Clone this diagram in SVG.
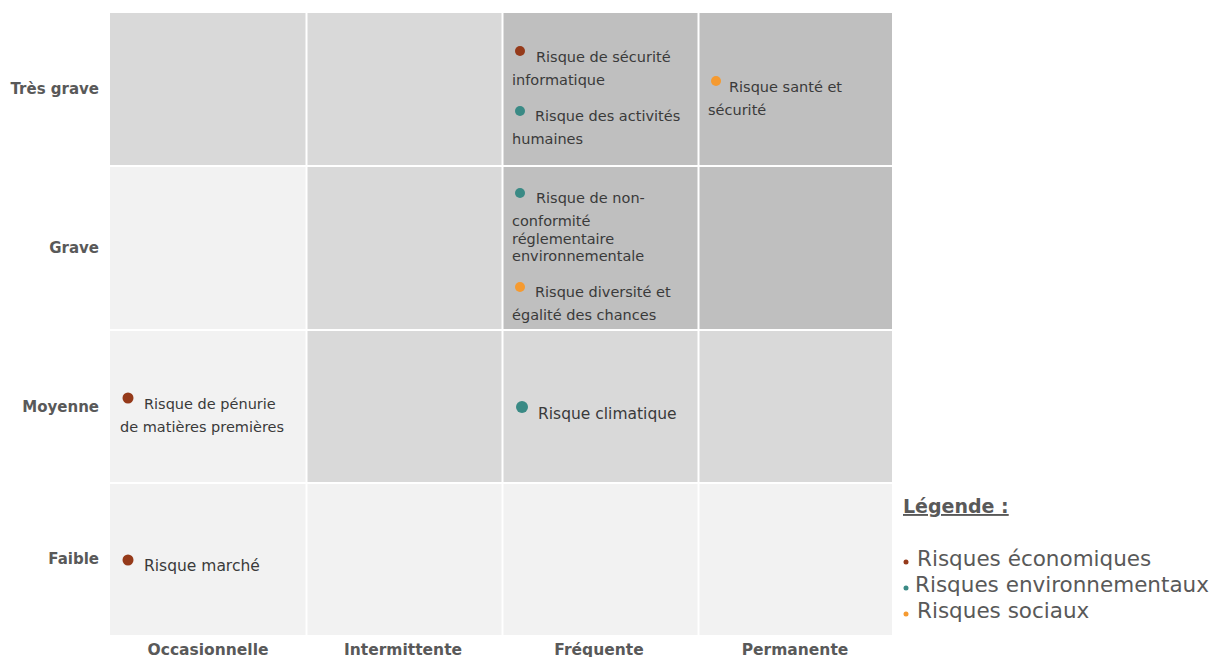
<svg xmlns="http://www.w3.org/2000/svg" width="1210" height="657" viewBox="0 0 1210 657">
<style>
.c1{fill:#f2f2f2}.c2{fill:#d9d9d9}.c3{fill:#bfbfbf}
.t{font-family:"DejaVu Sans","Liberation Sans",sans-serif;font-size:14.5px;fill:#3a3a3a}
.tl{font-family:"DejaVu Sans","Liberation Sans",sans-serif;font-size:15.5px;fill:#3a3a3a}
.ax{font-family:"DejaVu Sans","Liberation Sans",sans-serif;font-size:15px;font-weight:bold;fill:#595959}
.ax2{font-family:"DejaVu Sans","Liberation Sans",sans-serif;font-size:15.5px;font-weight:bold;fill:#595959}
.lg{font-family:"DejaVu Sans","Liberation Sans",sans-serif;font-size:21.5px;fill:#595959}
.lgt{font-family:"DejaVu Sans","Liberation Sans",sans-serif;font-size:19px;font-weight:bold;fill:#595959}
.eco{fill:#953a1a}.env{fill:#3a8a85}.soc{fill:#f59a30}
</style>
<rect width="1210" height="657" fill="#ffffff"/>
<g id="grid">
<rect class="c2" x="110" y="13" width="195.5" height="152"/>
<rect class="c2" x="307.5" y="13" width="194" height="152"/>
<rect class="c3" x="503.5" y="13" width="194" height="152"/>
<rect class="c3" x="699.5" y="13" width="192.5" height="152"/>
<rect class="c1" x="110" y="167" width="195.5" height="162"/>
<rect class="c2" x="307.5" y="167" width="194" height="162"/>
<rect class="c3" x="503.5" y="167" width="194" height="162"/>
<rect class="c3" x="699.5" y="167" width="192.5" height="162"/>
<rect class="c1" x="110" y="331" width="195.5" height="151"/>
<rect class="c2" x="307.5" y="331" width="194" height="151"/>
<rect class="c2" x="503.5" y="331" width="194" height="151"/>
<rect class="c2" x="699.5" y="331" width="192.5" height="151"/>
<rect class="c1" x="110" y="484" width="195.5" height="151"/>
<rect class="c1" x="307.5" y="484" width="194" height="151"/>
<rect class="c1" x="503.5" y="484" width="194" height="151"/>
<rect class="c1" x="699.5" y="484" width="192.5" height="151"/>
</g>
<g id="axis-y">
<text class="ax" x="99" y="94" text-anchor="end">Très grave</text>
<text class="ax" x="99" y="253" text-anchor="end">Grave</text>
<text class="ax" x="99" y="412" text-anchor="end">Moyenne</text>
<text class="ax" x="99" y="564" text-anchor="end">Faible</text>
</g>
<g id="axis-x">
<text class="ax2" x="208" y="655" text-anchor="middle">Occasionnelle</text>
<text class="ax2" x="403" y="655" text-anchor="middle">Intermittente</text>
<text class="ax2" x="599" y="655" text-anchor="middle">Fréquente</text>
<text class="ax2" x="795" y="655" text-anchor="middle">Permanente</text>
</g>
<g id="risk-securite-info">
<circle class="eco" cx="520" cy="51" r="5"/>
<text class="t" x="536" y="62">Risque de sécurité</text>
<text class="t" x="512" y="85">informatique</text>
</g>
<g id="risk-activites-humaines">
<circle class="env" cx="520" cy="111" r="5"/>
<text class="t" x="535" y="121">Risque des activités</text>
<text class="t" x="512" y="144">humaines</text>
</g>
<g id="risk-sante-securite">
<circle class="soc" cx="716" cy="81" r="5"/>
<text class="t" x="729" y="92">Risque santé et</text>
<text class="t" x="708" y="115">sécurité</text>
</g>
<g id="risk-non-conformite">
<circle class="env" cx="520" cy="193" r="5"/>
<text class="t" x="536" y="203">Risque de non-</text>
<text class="t" x="512" y="226">conformité</text>
<text class="t" x="512" y="244">réglementaire</text>
<text class="t" x="512" y="261">environnementale</text>
</g>
<g id="risk-diversite">
<circle class="soc" cx="520" cy="287" r="5"/>
<text class="t" x="535" y="297">Risque diversité et</text>
<text class="t" x="512" y="320">égalité des chances</text>
</g>
<g id="risk-penurie">
<circle class="eco" cx="128" cy="398" r="5.5"/>
<text class="t" x="144" y="409">Risque de pénurie</text>
<text class="t" x="120" y="432">de matières premières</text>
</g>
<g id="risk-climatique">
<circle class="env" cx="522" cy="407" r="6"/>
<text class="tl" x="538" y="419">Risque climatique</text>
</g>
<g id="risk-marche">
<circle class="eco" cx="128" cy="560" r="5.5"/>
<text class="tl" x="144" y="571">Risque marché</text>
</g>
<g id="legend">
<text class="lgt" x="903" y="513" text-decoration="underline">Légende :</text>
<circle class="eco" cx="906" cy="562" r="2.5"/>
<text class="lg" x="917" y="566">Risques économiques</text>
<circle class="env" cx="906" cy="588" r="2.5"/>
<text class="lg" x="915" y="592">Risques environnementaux</text>
<circle class="soc" cx="906" cy="614" r="2.5"/>
<text class="lg" x="917" y="618">Risques sociaux</text>
</g>
</svg>
